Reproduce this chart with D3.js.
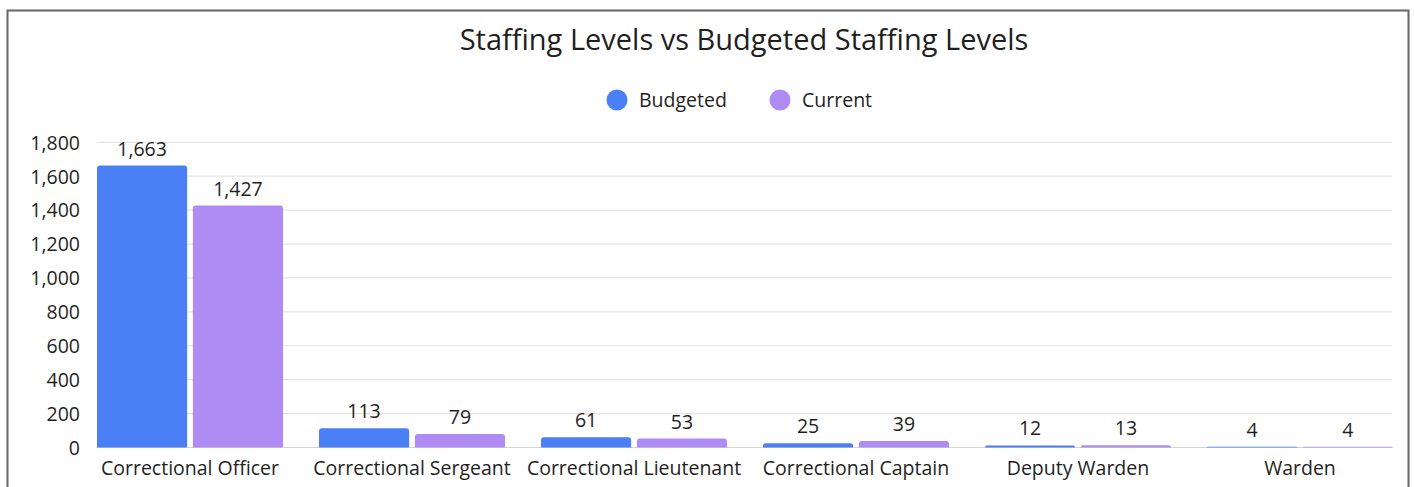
<!DOCTYPE html>
<html><head><meta charset="utf-8">
<script src="https://cdn.jsdelivr.net/npm/d3@7"></script>
<style>
html,body{margin:0;padding:0;background:#fff;}
svg text{font-family:"Open Sans",Lato,sans-serif;fill:#1f1f1f;}
</style></head>
<body><svg id="chart" width="1414" height="487"></svg>
<script>
const categories = ["Correctional Officer","Correctional Sergeant","Correctional Lieutenant","Correctional Captain","Deputy Warden","Warden"];
const budgeted = [1663,113,61,25,12,4];
const current = [1427,79,53,39,13,4];
const seriesNames = ["Budgeted","Current"];
const seriesColors = ["#4a7ff5","#af8cf3"];
const yTicks = [0,200,400,600,800,1000,1200,1400,1600,1800];

(function(){
const svg = d3.select("#chart");
const FONT = "'Open Sans', Lato, sans-serif";
// frame
svg.append("rect").attr("x",7.5).attr("y",10.5).attr("width",1401).attr("height",500)
  .attr("fill","#fff").attr("stroke","#666").attr("stroke-width",2);

const pLeft=97, pRight=1393, pTop=142.3, pBottom=447.5;
const y = d3.scaleLinear().domain([0,1800]).range([pBottom,pTop]);
const x0 = d3.scaleBand().domain(categories).range([pLeft,pRight]).paddingInner(0.162).paddingOuter(0);
const x1 = d3.scaleBand().domain(seriesNames).range([0,x0.bandwidth()]).paddingInner(0.06);

// title
svg.append("text").attr("x",744).attr("y",50).attr("text-anchor","middle")
  .style("font-size","29px").text("Staffing Levels vs Budgeted Staffing Levels");

// legend
const legendX = [617,780];
seriesNames.forEach((s,i)=>{
  svg.append("circle").attr("cx",legendX[i]).attr("cy",100).attr("r",10.5).attr("fill",seriesColors[i]);
  svg.append("text").attr("x",legendX[i]+22).attr("y",106.5).style("font-size","19.5px").text(s);
});

// gridlines
svg.append("g").selectAll("line").data(yTicks.filter(d=>d>0)).join("line")
  .attr("x1",pLeft).attr("x2",pRight-1).attr("y1",d=>y(d)).attr("y2",d=>y(d))
  .attr("stroke","#e3e3e3").attr("stroke-width",1.2);

// y axis
const yAxis = svg.append("g").attr("transform",`translate(${pLeft},0)`)
  .call(d3.axisLeft(y).tickValues(yTicks).tickFormat(d3.format(",")).tickSize(0).tickPadding(17));
yAxis.select(".domain").remove();
yAxis.selectAll("text").style("font-size","19.5px").style("font-family",FONT).attr("fill","#1f1f1f").attr("dy","0.35em");

// baseline
svg.append("line").attr("x1",pLeft).attr("x2",pRight-1).attr("y1",pBottom).attr("y2",pBottom)
  .attr("stroke","#d6d6d6").attr("stroke-width",1.2);

// bars
const data = categories.map((c,i)=>({cat:c, vals:[budgeted[i],current[i]]}));
const groups = svg.append("g").selectAll("g").data(data).join("g")
  .attr("transform",d=>`translate(${x0(d.cat)},0)`);
function barPath(x,w,y0,y1,r){
  const h=y0-y1; r=Math.min(r,h,w/2);
  return `M${x},${y0}V${y1+r}Q${x},${y1} ${x+r},${y1}H${x+w-r}Q${x+w},${y1} ${x+w},${y1+r}V${y0}Z`;
}
groups.selectAll("path").data(d=>d.vals.map((v,i)=>({s:seriesNames[i],v,i}))).join("path")
  .attr("d",d=>barPath(x1(d.s),x1.bandwidth(),y(0),y(d.v),3))
  .attr("fill",d=>seriesColors[d.i]);
groups.selectAll("text.val").data(d=>d.vals.map((v,i)=>({s:seriesNames[i],v,i}))).join("text")
  .attr("class","val").attr("x",d=>x1(d.s)+x1.bandwidth()/2).attr("y",d=>y(d.v)-10)
  .attr("text-anchor","middle").style("font-size","19.5px").text(d=>d3.format(",")(d.v));

// x labels
svg.append("g").selectAll("text").data(categories).join("text")
  .attr("x",d=>x0(d)+x0.bandwidth()/2).attr("y",475).attr("text-anchor","middle")
  .style("font-size","19.5px").text(d=>d);
})();
</script></body></html>
